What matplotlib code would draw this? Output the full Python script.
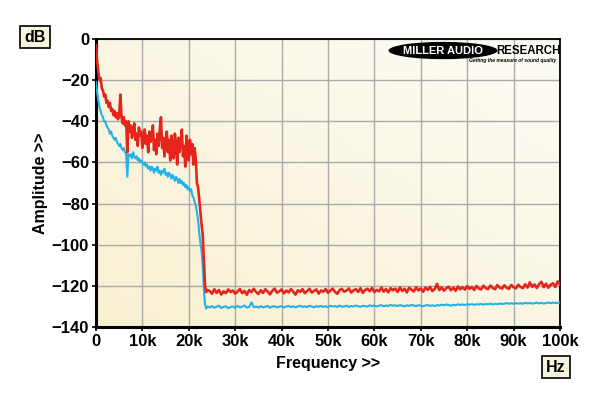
import numpy as np
import matplotlib.pyplot as plt
from matplotlib.patches import Ellipse

plt.rcParams['font.family'] = ['Liberation Sans', 'DejaVu Sans']

# frequency grids (Hz)
f_low = np.arange(0, 24001, 250)
f_high = np.arange(24500, 100001, 500)

# red trace, 0..24 kHz (dB)
red_low = [-3, -11, -16, -20, -19, -24, -25, -28, -27, -31, -30, -33, -31, -35, -34, -37,
           -35, -38, -36, -39, -37, -27, -38, -41, -38, -42, -40, -55,
           -40, -45, -42, -48, -44, -41, -49, -46, -52, -43, -47, -45,
           -53, -49, -44, -51, -47, -55, -45, -50, -48, -42, -54, -49,
           -56, -46, -52, -44, -38, -53, -48, -57, -50, -45, -55, -49,
           -59, -47, -53, -58, -46, -51, -61, -48, -55, -50, -44, -57,
           -52, -62, -47, -54, -59, -49, -56, -51, -61, -53, -58,
           -70, -72, -78, -84, -90, -95, -108, -120, -123, -122]
# red trace, 24.5..100 kHz (dB)
red_high = [-122.5, -123.8, -121.6, -123.4, -122.0, -124.2, -122.6, -123.5, -121.7, -123.0,
            -122.2, -123.8, -122.8, -121.5, -123.5, -122.4, -124.3, -122.0, -123.0, -121.4,
            -122.9, -123.9, -122.1, -123.4, -121.6, -122.7, -124.1, -122.3, -121.3, -123.3,
            -122.6, -121.7, -123.6, -122.2, -123.2, -121.5, -122.8, -124.2, -122.1, -122.9,
            -121.6, -123.5, -122.5, -121.4, -123.2, -122.4, -121.7, -123.7, -122.2, -122.8,
            -121.5, -123.3, -122.3, -121.3, -122.9, -123.8, -122.0, -121.4, -122.8, -122.2,
            -121.2, -123.2, -122.1, -121.6, -122.9, -121.1, -123.4, -122.0, -121.4, -122.5,
            -121.0, -123.0, -121.9, -122.6, -120.8, -122.8, -121.5, -123.1, -121.1, -122.1,
            -121.3, -122.9, -120.7, -122.4, -121.4, -123.1, -120.9, -121.8, -122.7, -120.6,
            -122.2, -121.2, -122.8, -120.8, -121.9, -120.5, -122.5, -121.5, -119.0, -122.0,
            -120.7, -122.3, -121.1, -120.4, -122.1, -120.8, -122.4, -120.3, -121.6, -120.6,
            -121.8, -120.1, -121.4, -120.5, -122.0, -120.0, -121.2, -121.7, -119.9, -121.1,
            -121.5, -119.8, -121.0, -121.6, -119.6, -120.8, -121.3, -119.7, -120.9, -121.4,
            -119.5, -120.7, -121.2, -119.4, -120.5, -121.1, -119.2, -120.8, -118.3, -120.4,
            -119.3, -121.0, -119.1, -118.0, -120.6, -118.9, -120.9, -119.4, -118.7, -120.5,
            -117.8, -119.2]

# blue trace, 0..24 kHz (dB)
blue_low = [-21, -26, -30, -33, -35, -37, -38, -40, -40, -42, -43, -44, -46, -45, -47, -48,
            -49, -48, -50, -51, -52, -51, -53, -54, -53, -55, -56, -67, -56, -57, -56, -58,
            -55, -57, -58, -57, -59, -58, -60, -59, -60, -61, -60, -62, -61, -63, -62, -64,
            -62, -63, -65, -63, -64, -62, -65, -64, -66, -64, -65, -63, -66, -65, -67, -65,
            -66, -68, -66, -67, -69, -67, -68, -70, -68, -70, -69, -71, -70, -72, -71, -73,
            -72, -74, -73, -76, -77, -79, -81, -84, -88, -94, -99, -103, -110, -122, -129, -131,
            -130]
# blue trace, 24.5..100 kHz (dB)
blue_high = [-130.5, -129.8, -130.6, -130.1, -129.6, -130.7, -130.2, -129.9, -130.8, -130.3,
             -130.0, -130.6, -129.7, -130.4, -130.1, -129.5, -130.5, -130.2, -128.0, -130.3,
             -130.0, -130.5, -129.8, -130.4, -130.1, -129.7, -130.6, -130.0, -129.9, -130.4,
             -130.1, -129.8, -130.5, -130.0, -129.7, -130.3, -129.9, -130.4, -130.0, -129.6,
             -130.2, -129.9, -130.3, -129.6, -130.0, -130.4, -129.8, -130.1, -129.7, -130.2,
             -129.9, -130.3, -129.6, -130.0, -129.8, -130.2, -129.5, -130.1, -129.9, -129.6,
             -130.2, -129.7, -130.0, -129.5, -129.9, -130.1, -129.6, -129.8, -130.0, -129.4,
             -129.8, -129.5, -130.0, -129.6, -129.3, -129.9, -129.5, -129.7, -129.2, -129.6,
             -129.4, -129.8, -129.3, -129.6, -129.9, -129.4, -129.7, -129.2, -129.5, -129.8,
             -129.3, -129.6, -129.9, -129.5, -129.2, -129.7, -129.4, -129.8, -129.3, -129.5,
             -129.1, -129.4, -129.0, -129.3, -129.6, -129.1, -129.4, -128.9, -129.2, -129.0,
             -129.3, -128.9, -129.1, -128.8, -129.2, -128.9, -129.0, -128.7, -129.1, -128.8,
             -128.9, -128.6, -129.0, -128.7, -128.9, -128.5, -128.8, -128.6, -128.3, -128.7,
             -128.4, -128.7, -128.3, -128.6, -128.4, -128.7, -128.2, -128.5, -128.3, -128.6,
             -128.4, -128.1, -128.5, -128.2, -128.6, -128.3, -128.0, -128.4, -128.1, -128.3,
             -128.2, -128.0]

x_ticks = [0, 10000, 20000, 30000, 40000, 50000, 60000, 70000, 80000, 90000, 100000]
x_labels = ['0', '10k', '20k', '30k', '40k', '50k', '60k', '70k', '80k', '90k', '100k']
y_ticks = [0, -20, -40, -60, -80, -100, -120, -140]

freq = np.concatenate([f_low, f_high])
red = np.concatenate([red_low, red_high])
blue = np.concatenate([blue_low, blue_high])

fig = plt.figure(figsize=(6, 3.96), dpi=100)
fig.patch.set_facecolor('white')
ax = fig.add_axes([0.16, 0.174, 0.7733, 0.7275])

# cream background gradient
yy, xx = np.mgrid[0:1:100j, 0:1:100j]
g = (xx * 0.5 + (1 - yy) * 0.5)
c0 = np.array([248, 240, 208]) / 255
c1 = np.array([253, 252, 246]) / 255
img = c0[None, None, :] * (1 - g[..., None]) + c1[None, None, :] * g[..., None]
ax.imshow(img, extent=[0, 1, 0, 1], transform=ax.transAxes, aspect='auto', zorder=0)

ax.plot(freq, blue, color='#20b2e8', lw=1.5, zorder=3)
ax.plot(freq, red, color='#e6241c', lw=1.9, zorder=4)

ax.set_xlim(0, 100000)
ax.set_ylim(-140, 0)
ax.set_xticks(x_ticks)
ax.set_xticklabels(x_labels)
ax.set_yticks(y_ticks)
ax.grid(True, color='#aaaaaa', lw=1)
ax.set_axisbelow(True)
for lab in ax.get_xticklabels() + ax.get_yticklabels():
    lab.set_fontweight('bold')
    lab.set_fontsize(12)
ax.tick_params(length=3, width=1.2, color='black', pad=2)

for s in ['left', 'bottom']:
    ax.spines[s].set_linewidth(2.2)
for s in ['top', 'right']:
    ax.spines[s].set_linewidth(1.3)

ax.set_xlabel('Frequency >>', fontsize=11.5, fontweight='bold', labelpad=5)
ax.set_ylabel('Amplitude >>', fontsize=11.5, fontweight='bold', labelpad=3)

box = dict(boxstyle='square,pad=0.25', fc='#f8f3dc', ec='black', lw=1.2)
fig.text(35 / 600, 1 - 37 / 396, 'dB', fontsize=11.5, fontweight='bold', ha='center', va='center', bbox=box)
fig.text(556 / 600, 1 - 367 / 396, 'Hz', fontsize=11.5, fontweight='bold', ha='center', va='center', bbox=box)

# logo
ell = Ellipse((0.748, 0.96), 0.235, 0.06, transform=ax.transAxes, fc='black', ec='none', zorder=5)
ax.add_patch(ell)
ax.text(0.748, 0.959, 'MILLER AUDIO', transform=ax.transAxes, color='white', fontsize=8,
        fontweight='heavy', ha='center', va='center', zorder=6)
ax.text(0.862, 0.96, 'RESEARCH', transform=ax.transAxes, color='black', fontsize=8.3,
        fontweight='heavy', ha='left', va='center', zorder=6)
ax.text(0.993, 0.926, 'Getting the measure of sound quality', transform=ax.transAxes, color='black',
        fontsize=3.6, fontweight='bold', style='italic', ha='right', va='center', zorder=6)

fig.savefig('out.png', dpi=100)
